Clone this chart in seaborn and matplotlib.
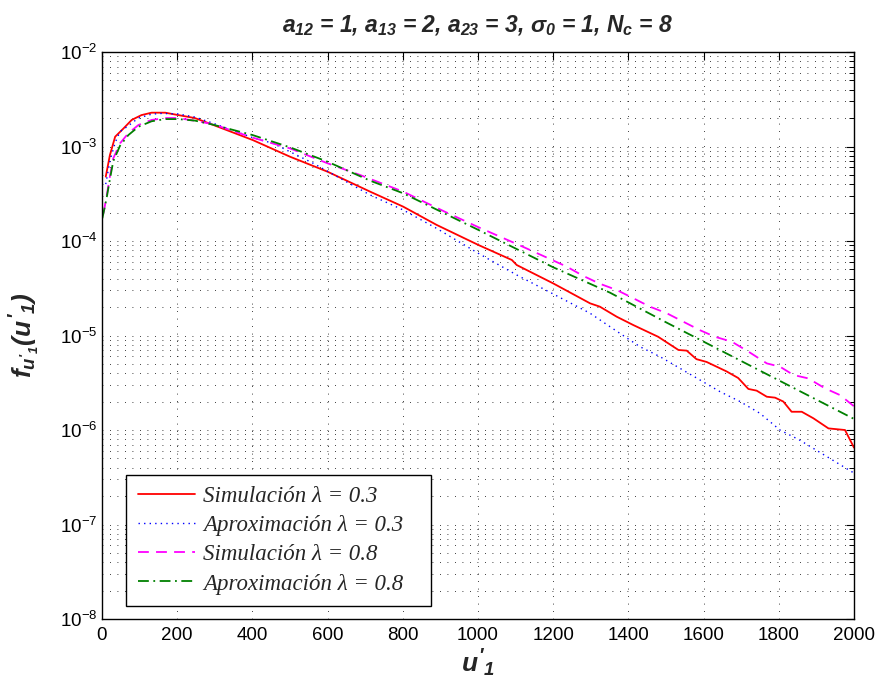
import numpy as np
import pandas as pd
import matplotlib
matplotlib.use("Agg")
import matplotlib.pyplot as plt
from matplotlib import font_manager
from matplotlib.ticker import LogLocator, NullFormatter
import seaborn as sns

# ---------------- data ----------------
sim03_x = [10, 21, 35, 57, 79, 105, 132, 168, 203, 247, 296, 401, 500, 600, 713, 801,
           890, 1001, 1090, 1103, 1200, 1298, 1324, 1369, 1413, 1479, 1533, 1555, 1581,
           1608, 1661, 1692, 1719, 1741, 1768, 1790, 1812, 1834, 1861, 1892, 1932, 1976, 2000]
sim03_y = [4.8e-4, 8.1e-4, 1.27e-3, 1.55e-3, 1.91e-3, 2.15e-3, 2.28e-3, 2.28e-3, 2.15e-3,
           2.0e-3, 1.69e-3, 1.17e-3, 7.8e-4, 5.41e-4, 3.33e-4, 2.31e-4, 1.48e-4, 9.08e-5,
           6.3e-5, 5.57e-5, 3.56e-5, 2.19e-5, 2.02e-5, 1.58e-5, 1.29e-5, 9.7e-6, 7.03e-6,
           6.92e-6, 5.62e-6, 5.25e-6, 4.17e-6, 3.55e-6, 2.72e-6, 2.61e-6, 2.25e-6, 2.20e-6,
           2.0e-6, 1.56e-6, 1.56e-6, 1.33e-6, 1.04e-6, 1.0e-6, 6.5e-7]

apr03_x = [10, 21, 35, 48, 61, 97, 132, 159, 203, 247, 296, 401, 455, 562, 713, 801, 890,
           1001, 1103, 1200, 1298, 1378, 1431, 1484, 1537, 1590, 1644, 1697, 1750, 1803,
           1856, 2000]
apr03_y = [4.0e-4, 7.0e-4, 1.1e-3, 1.44e-3, 1.56e-3, 2.0e-3, 2.2e-3, 2.24e-3, 2.21e-3,
           2.05e-3, 1.76e-3, 1.24e-3, 1.08e-3, 6.64e-4, 3.07e-4, 2.13e-4, 1.36e-4, 7.4e-5,
           4.37e-5, 2.75e-5, 1.72e-5, 1.05e-5, 7.6e-6, 5.97e-6, 4.5e-6, 3.39e-6, 2.54e-6,
           2.0e-6, 1.5e-6, 1.0e-6, 7.8e-7, 3.5e-7]

sim08_x = [4, 12, 21, 30, 48, 70, 97, 132, 168, 203, 247, 296, 401, 500, 600, 686, 801,
           912, 1001, 1103, 1191, 1236, 1280, 1324, 1369, 1413, 1457, 1502, 1546, 1590,
           1630, 1675, 1719, 1768, 1803, 1839, 1878, 1923, 1963, 2000]
sim08_y = [1.96e-4, 2.94e-4, 4.8e-4, 7.5e-4, 1.08e-3, 1.38e-3, 1.69e-3, 1.91e-3, 2.0e-3,
           2.0e-3, 1.87e-3, 1.72e-3, 1.24e-3, 9.55e-4, 6.64e-4, 5.0e-4, 3.33e-4, 2.04e-4,
           1.40e-4, 9.3e-5, 6.46e-5, 5.35e-5, 4.27e-5, 3.53e-5, 3.03e-5, 2.48e-5, 2.02e-5,
           1.72e-5, 1.40e-5, 1.14e-5, 9.7e-6, 8.6e-6, 6.76e-6, 5.07e-6, 4.68e-6, 3.82e-6,
           3.52e-6, 2.76e-6, 2.34e-6, 1.78e-6]

apr08_x = [1, 12, 21, 30, 48, 70, 97, 132, 168, 203, 247, 296, 401, 500, 600, 713, 801,
           1001, 1200, 1351, 1500, 1700, 1850, 2000]
apr08_y = [1.74e-4, 2.8e-4, 4.5e-4, 7.0e-4, 1.02e-3, 1.32e-3, 1.62e-3, 1.85e-3, 1.95e-3,
           1.95e-3, 1.88e-3, 1.70e-3, 1.32e-3, 9.8e-4, 6.9e-4, 4.35e-4, 3.2e-4, 1.31e-4,
           5.27e-5, 2.84e-5, 1.38e-5, 5.37e-6, 2.65e-6, 1.31e-6]

labels = ["Simulación λ = 0.3", "Aproximación λ = 0.3",
          "Simulación λ = 0.8", "Aproximación λ = 0.8"]
x_ticks = list(range(0, 2001, 200))

# ---------------- style ----------------
sns.set_theme(style="white")
names = {f.name for f in font_manager.fontManager.ttflist}
narrow = "Liberation Sans Narrow" if "Liberation Sans Narrow" in names else "Liberation Sans"
plt.rcParams["font.family"] = ["Liberation Sans", "DejaVu Sans"]
plt.rcParams["mathtext.fontset"] = "custom"
plt.rcParams["mathtext.it"] = f"{narrow}:italic:bold"
plt.rcParams["mathtext.rm"] = f"{narrow}:italic:bold"
plt.rcParams["mathtext.bf"] = f"{narrow}:italic:bold"
plt.rcParams["mathtext.sf"] = f"{narrow}:italic:bold"

fig = plt.figure(figsize=(8.77, 6.78), dpi=100)
ax = fig.add_axes([0.1163, 0.0870, 0.8575, 0.8363])

series = [
    (sim03_x, sim03_y, "#ff0000", "-", 1.3),
    (apr03_x, apr03_y, "#0000ff", (0, (1, 3)), 1.0),
    (sim08_x, sim08_y, "#ff00ff", (0, (6, 4)), 1.3),
    (apr08_x, apr08_y, "#008000", (0, (6, 2.5, 1, 2.5)), 1.3),
]
for (xs, ys, col, ls, lw), lab in zip(series, labels):
    df = pd.DataFrame({"x": xs, "y": ys})
    sns.lineplot(data=df, x="x", y="y", ax=ax, color=col, linestyle=ls,
                 linewidth=lw, label=lab, sort=False, estimator=None)

ax.set_yscale("log")
ax.set_xlim(0, 2000)
ax.set_ylim(1e-8, 1e-2)
ax.set_xticks(x_ticks)
ax.yaxis.set_major_locator(LogLocator(base=10, numticks=20))
ax.yaxis.set_minor_locator(LogLocator(base=10, subs=np.arange(2, 10), numticks=20))
ax.yaxis.set_minor_formatter(NullFormatter())
ax.xaxis.offsetText.set_visible(False)
ax.yaxis.offsetText.set_visible(False)

grid_kw = dict(color="black", linestyle=(0, (1, 8)), linewidth=0.6)
ax.xaxis.grid(True, which="major", **grid_kw)
ax.yaxis.grid(True, which="major", **grid_kw)
ax.yaxis.grid(True, which="minor", **grid_kw)

ax.tick_params(which="both", direction="in", top=True, right=True, colors="black",
               labelsize=13.5)
ax.tick_params(which="major", length=6, width=0.8)
ax.tick_params(which="minor", length=3.5, width=0.7)
ax.tick_params(axis="x", which="major", pad=6)
for sp in ax.spines.values():
    sp.set_color("black")
    sp.set_linewidth(1.0)
    sp.set_visible(True)

ax.set_title(r"$a_{12}$ = 1, $a_{13}$ = 2, $a_{23}$ = 3, $\sigma_{0}$ = 1, $N_{c}$ = 8",
             family=narrow, fontsize=16.5, fontweight="bold", style="italic", pad=14)
ax.set_xlabel(r"$u'_{1}$", fontsize=19)
ax.set_ylabel(r"$f_{u'_{1}}(u'_{1})$", fontsize=19)
ax.xaxis.set_label_coords(0.5, -0.05)
ax.yaxis.set_label_coords(-0.08, 0.5)

leg = ax.legend(loc="lower left", bbox_to_anchor=(0.032, 0.023, 0.4056, 0.2345),
                mode="expand", borderaxespad=0,
                prop={"family": "Liberation Serif", "style": "italic", "size": 16.5},
                frameon=True, fancybox=False, edgecolor="black", framealpha=1,
                handlelength=2.5, handletextpad=0.35, labelspacing=0.35, borderpad=0.5)
leg.get_frame().set_linewidth(1.0)

fig.savefig("out.png", dpi=100)
